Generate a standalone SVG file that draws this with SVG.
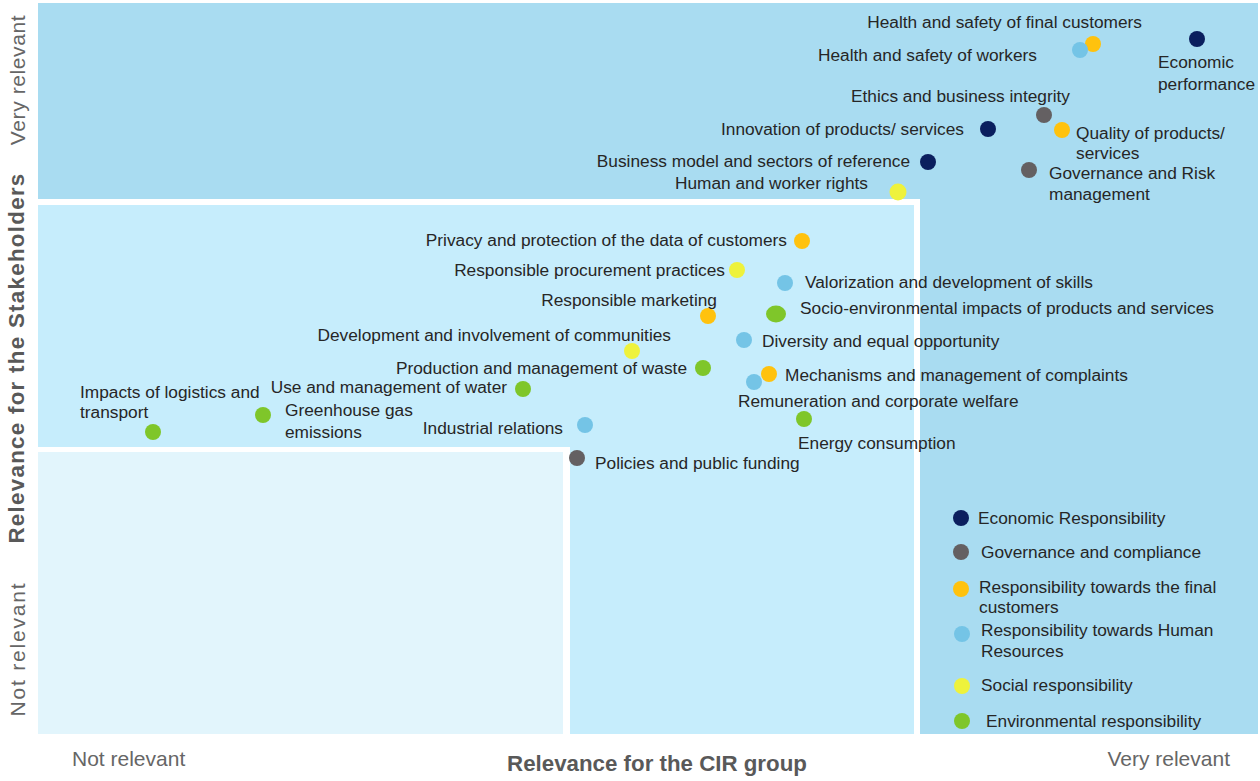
<svg xmlns="http://www.w3.org/2000/svg" width="1260" height="781" viewBox="0 0 1260 781">
<style>
text{font-family:"Liberation Sans",Arial,sans-serif;fill:#262626;font-size:17.3px}
.e{text-anchor:end}
.ax{fill:#666;font-size:21px}
.axb{fill:#595959;font-size:22.3px;font-weight:bold}
.eco{fill:#0b1f5e}.gov{fill:#646062}.cus{fill:#ffc20e}.hr{fill:#74c4e6}.soc{fill:#eef23c}.env{fill:#7fc62a}
</style>
<rect width="1260" height="781" fill="#ffffff"/>
<g id="background">
<rect x="38" y="3" width="1220" height="731" fill="#a9dcf1"/>
<rect x="38" y="199" width="882" height="535" fill="#ffffff"/>
<rect x="38" y="205" width="876" height="529" fill="#c6edfc"/>
<rect x="38" y="447" width="532" height="287" fill="#ffffff"/>
<rect x="38" y="452" width="525" height="282" fill="#e2f5fc"/>
</g>
<g id="connectors"/>
<g id="axes">
<text class="ax" x="72" y="766">Not relevant</text>
<text class="ax e" x="1230" y="766">Very relevant</text>
<text class="axb" x="657" y="771" text-anchor="middle">Relevance for the CIR group</text>
<text class="axb" transform="translate(24,358) rotate(-90)" text-anchor="middle" font-size="20" letter-spacing="1.3">Relevance for the Stakeholders</text>
<text class="ax" transform="translate(25,80) rotate(-90)" text-anchor="middle" font-size="20" letter-spacing="0.6">Very relevant</text>
<text class="ax" transform="translate(25,649) rotate(-90)" text-anchor="middle" font-size="20" letter-spacing="1.8">Not relevant</text>
</g>
<g id="n-health-customers"><circle class="cus" cx="1093" cy="44" r="8"/><text class="e" x="1142" y="28">Health and safety of final customers</text></g>
<g id="n-health-workers"><circle class="hr" cx="1080" cy="50" r="8"/><text class="e" x="1037" y="61">Health and safety of workers</text></g>
<g id="n-economic-performance"><circle class="eco" cx="1197" cy="39" r="8"/><text x="1158" y="68">Economic</text><text x="1158" y="90">performance</text></g>
<g id="n-ethics"><circle class="gov" cx="1044" cy="115" r="8"/><text class="e" x="1070" y="102">Ethics and business integrity</text></g>
<g id="n-innovation"><circle class="eco" cx="988" cy="129" r="8"/><text class="e" x="964" y="135">Innovation of products/ services</text></g>
<g id="n-quality"><circle class="cus" cx="1062" cy="130" r="8"/><text x="1076" y="139">Quality of products/</text><text x="1076" y="159">services</text></g>
<g id="n-business-model"><circle class="eco" cx="928" cy="162" r="8"/><text class="e" x="910" y="167">Business model and sectors of reference</text></g>
<g id="n-governance-risk"><circle class="gov" cx="1029" cy="170" r="8"/><text x="1049" y="179">Governance and Risk</text><text x="1049" y="200">management</text></g>
<g id="n-human-rights"><circle class="soc" cx="898" cy="192" r="8.5"/><text class="e" x="868" y="189">Human and worker rights</text></g>
<g id="n-privacy"><circle class="cus" cx="802" cy="241" r="8"/><text class="e" x="787" y="246">Privacy and protection of the data of customers</text></g>
<g id="n-procurement"><circle class="soc" cx="737" cy="270" r="8"/><text class="e" x="725" y="276">Responsible procurement practices</text></g>
<g id="n-valorization"><circle class="hr" cx="785" cy="283" r="8"/><text x="805" y="288">Valorization and development of skills</text></g>
<g id="n-marketing"><circle class="cus" cx="708" cy="316" r="8"/><text class="e" x="717" y="306">Responsible marketing</text></g>
<g id="n-socio-env"><ellipse class="env" cx="776" cy="314" rx="10" ry="8.5"/><text x="800" y="314">Socio-environmental impacts of products and services</text></g>
<g id="n-communities"><circle class="soc" cx="632" cy="351" r="8"/><text class="e" x="671" y="341">Development and involvement of communities</text></g>
<g id="n-diversity"><circle class="hr" cx="744" cy="340" r="8"/><text x="762" y="347">Diversity and equal opportunity</text></g>
<g id="n-waste"><circle class="env" cx="703" cy="368" r="8"/><text class="e" x="687" y="374">Production and management of waste</text></g>
<g id="n-remuneration"><circle class="hr" cx="754" cy="382" r="8"/><text x="738" y="407">Remuneration and corporate welfare</text></g>
<g id="n-complaints"><circle class="cus" cx="769" cy="374" r="8"/><text x="785" y="381">Mechanisms and management of complaints</text></g>
<g id="n-water"><circle class="env" cx="523" cy="389" r="8"/><text class="e" x="507" y="393">Use and management of water</text></g>
<g id="n-logistics"><circle class="env" cx="153" cy="432" r="8"/><text x="80" y="398">Impacts of logistics and</text><text x="80" y="418">transport</text></g>
<g id="n-ghg"><circle class="env" cx="263" cy="415" r="8"/><text x="285" y="416">Greenhouse gas</text><text x="285" y="438">emissions</text></g>
<g id="n-industrial"><circle class="hr" cx="585" cy="425" r="8"/><text class="e" x="563" y="434">Industrial relations</text></g>
<g id="n-energy"><circle class="env" cx="804" cy="419" r="8"/><text x="798" y="449">Energy consumption</text></g>
<g id="n-policies"><circle class="gov" cx="577" cy="458" r="8"/><text x="595" y="469">Policies and public funding</text></g>
<g id="legend">
<circle class="eco" cx="961" cy="518" r="8"/><text x="978" y="524">Economic Responsibility</text>
<circle class="gov" cx="961" cy="552" r="8"/><text x="981" y="558">Governance and compliance</text>
<circle class="cus" cx="961" cy="589" r="8"/><text x="979" y="593">Responsibility towards the final</text><text x="979" y="613">customers</text>
<circle class="hr" cx="962" cy="634" r="8"/><text x="981" y="636">Responsibility towards Human</text><text x="981" y="657">Resources</text>
<circle class="soc" cx="962" cy="686" r="8"/><text x="981" y="691">Social responsibility</text>
<circle class="env" cx="962" cy="721" r="8"/><text x="986" y="727">Environmental responsibility</text>
</g>
</svg>
